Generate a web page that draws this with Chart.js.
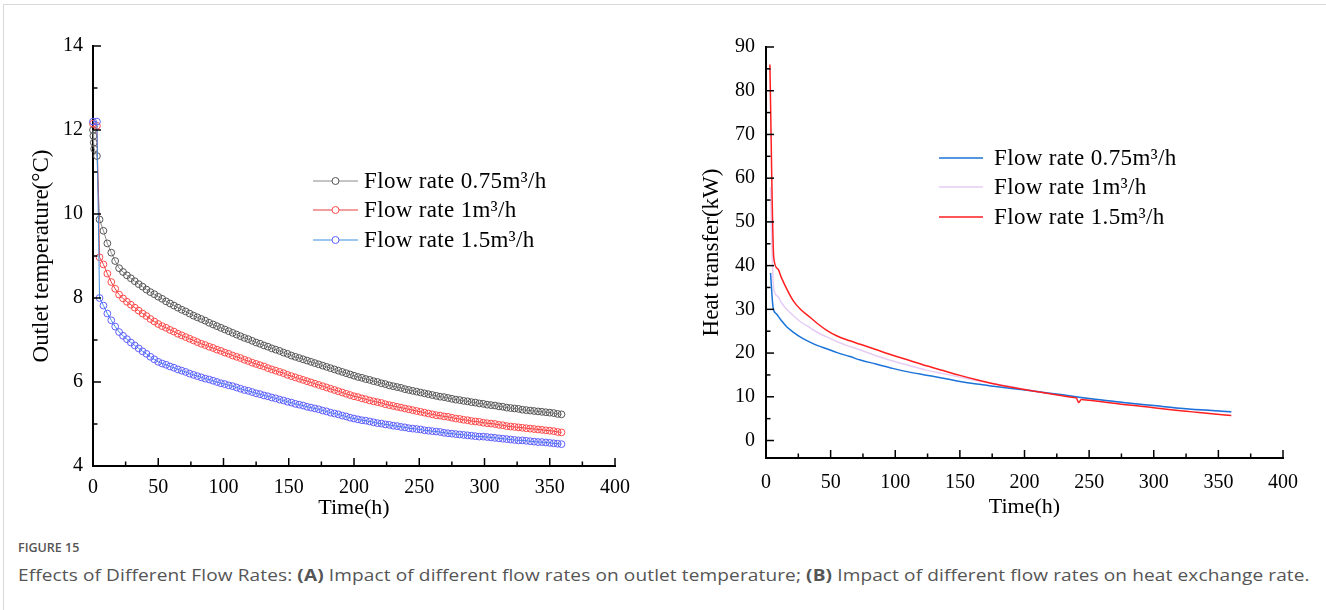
<!DOCTYPE html>
<html>
<head>
<meta charset="utf-8">
<script src="https://cdn.jsdelivr.net/npm/chart.js@4.4.0/dist/chart.umd.min.js"></script>
<style>
  body { margin: 0; background: #fff; width: 1326px; height: 610px; position: relative; overflow: hidden; }
  .frame { position: absolute; left: 3px; top: 4px; right: 0; bottom: 0; border-left: 1px solid #d8d8d8; border-top: 1px solid #d8d8d8; }
  #tempChart { position: absolute; left: 0; top: 0; }
  #heatChart { position: absolute; left: 660px; top: 0; }
  .fig { position: absolute; left: 18px; top: 539px; font-family: "Open Sans"; font-size: 12.5px; font-weight: 600; color: #555; }
  .cap { position: absolute; left: 18px; top: 564px; font-family: "Open Sans"; font-size: 16px; letter-spacing: 0.1px; color: #555;
         white-space: nowrap; transform: scaleX(1.19); transform-origin: left top; }
  .cap b { font-weight: 700; }
</style>
</head>
<body>
<div class="frame"></div>
<canvas id="tempChart" width="660" height="530"></canvas>
<canvas id="heatChart" width="666" height="530"></canvas>
<div class="fig">FIGURE 15</div>
<div class="cap">Effects of Different Flow Rates: <b>(A)</b> Impact of different flow rates on outlet temperature; <b>(B)</b> Impact of different flow rates on heat exchange rate.</div>
<script>
const seriesNames = ['Flow rate 0.75m³/h', 'Flow rate 1m³/h', 'Flow rate 1.5m³/h'];
const xTicks = [0, 50, 100, 150, 200, 250, 300, 350, 400];
const tempTicks = [4, 6, 8, 10, 12, 14];
const heatTicks = [0, 10, 20, 30, 40, 50, 60, 70, 80, 90];

// (A) outlet temperature, circles every ~3 h
const timeGrid = [
  5, 8, 11, 14, 17, 20, 23, 26, 29, 32,
  35, 38, 41, 44, 47, 50, 53, 56, 59, 62,
  65, 68, 71, 74, 77, 80, 83, 86, 89, 92,
  95, 98, 101, 104, 107, 110, 113, 116, 119, 122,
  125, 128, 131, 134, 137, 140, 143, 146, 149, 152,
  155, 158, 161, 164, 167, 170, 173, 176, 179, 182,
  185, 188, 191, 194, 197, 200, 203, 206, 209, 212,
  215, 218, 221, 224, 227, 230, 233, 236, 239, 242,
  245, 248, 251, 254, 257, 260, 263, 266, 269, 272,
  275, 278, 281, 284, 287, 290, 293, 296, 299, 302,
  305, 308, 311, 314, 317, 320, 323, 326, 329, 332,
  335, 338, 341, 344, 347, 350, 353, 356, 359
];

const earlyTime075 = [0, 0.3, 0.6, 0.9, 3];
const earlyTemp075 = [12.0, 11.86, 11.7, 11.55, 11.38];
const temp075 = [
  9.87, 9.60, 9.30, 9.08, 8.88, 8.71, 8.62, 8.54, 8.47, 8.40,
  8.33, 8.27, 8.20, 8.14, 8.09, 8.03, 7.98, 7.92, 7.87, 7.82,
  7.77, 7.72, 7.68, 7.63, 7.58, 7.54, 7.50, 7.46, 7.41, 7.37,
  7.33, 7.29, 7.25, 7.21, 7.17, 7.13, 7.09, 7.05, 7.02, 6.98,
  6.94, 6.91, 6.87, 6.84, 6.80, 6.77, 6.74, 6.70, 6.67, 6.63,
  6.60, 6.57, 6.54, 6.51, 6.48, 6.45, 6.42, 6.39, 6.36, 6.33,
  6.30, 6.27, 6.24, 6.21, 6.18, 6.15, 6.12, 6.10, 6.07, 6.05,
  6.02, 6.00, 5.97, 5.95, 5.92, 5.90, 5.88, 5.86, 5.83, 5.81,
  5.79, 5.77, 5.75, 5.73, 5.71, 5.69, 5.67, 5.65, 5.64, 5.62,
  5.60, 5.58, 5.57, 5.55, 5.54, 5.52, 5.51, 5.49, 5.48, 5.46,
  5.45, 5.44, 5.42, 5.41, 5.39, 5.38, 5.37, 5.36, 5.34, 5.33,
  5.32, 5.31, 5.30, 5.29, 5.28, 5.27, 5.26, 5.24, 5.23
];

const earlyTime1 = [0, 3];
const earlyTemp1 = [12.15, 12.1];
const temp1 = [
  8.97, 8.80, 8.58, 8.38, 8.22, 8.08, 7.99, 7.91, 7.84, 7.77,
  7.70, 7.63, 7.57, 7.50, 7.44, 7.38, 7.33, 7.29, 7.24, 7.20,
  7.15, 7.11, 7.07, 7.03, 6.99, 6.95, 6.91, 6.88, 6.84, 6.81,
  6.77, 6.74, 6.70, 6.67, 6.63, 6.60, 6.57, 6.53, 6.50, 6.46,
  6.43, 6.40, 6.37, 6.33, 6.30, 6.27, 6.24, 6.21, 6.17, 6.14,
  6.11, 6.08, 6.05, 6.02, 5.99, 5.96, 5.93, 5.90, 5.87, 5.84,
  5.81, 5.78, 5.75, 5.72, 5.69, 5.66, 5.64, 5.61, 5.59, 5.56,
  5.54, 5.52, 5.50, 5.47, 5.45, 5.43, 5.41, 5.39, 5.37, 5.35,
  5.33, 5.31, 5.29, 5.27, 5.25, 5.23, 5.21, 5.20, 5.18, 5.17,
  5.15, 5.13, 5.12, 5.10, 5.09, 5.07, 5.06, 5.05, 5.03, 5.02,
  5.01, 5.00, 4.98, 4.97, 4.95, 4.94, 4.93, 4.92, 4.91, 4.90,
  4.89, 4.88, 4.87, 4.86, 4.85, 4.84, 4.83, 4.81, 4.80
];

const earlyTime15 = [0, 3];
const earlyTemp15 = [12.2, 12.2];
const temp15 = [
  8.00, 7.82, 7.63, 7.47, 7.32, 7.19, 7.10, 7.02, 6.94, 6.87,
  6.80, 6.73, 6.67, 6.60, 6.54, 6.48, 6.44, 6.41, 6.37, 6.34,
  6.30, 6.27, 6.24, 6.20, 6.17, 6.14, 6.11, 6.08, 6.06, 6.03,
  6.00, 5.97, 5.95, 5.92, 5.90, 5.87, 5.84, 5.81, 5.79, 5.76,
  5.73, 5.71, 5.68, 5.66, 5.63, 5.61, 5.58, 5.56, 5.53, 5.51,
  5.48, 5.46, 5.44, 5.41, 5.39, 5.37, 5.35, 5.32, 5.30, 5.27,
  5.25, 5.23, 5.20, 5.18, 5.15, 5.13, 5.11, 5.09, 5.08, 5.06,
  5.04, 5.02, 5.01, 4.99, 4.98, 4.96, 4.95, 4.93, 4.92, 4.90,
  4.89, 4.88, 4.87, 4.85, 4.84, 4.83, 4.82, 4.81, 4.79, 4.78,
  4.77, 4.76, 4.75, 4.74, 4.73, 4.72, 4.71, 4.70, 4.70, 4.69,
  4.68, 4.67, 4.66, 4.65, 4.64, 4.63, 4.62, 4.61, 4.61, 4.60,
  4.59, 4.58, 4.57, 4.57, 4.56, 4.55, 4.54, 4.53, 4.52
];

// (B) heat transfer
const heatTime075 = [3.5, 5.5, 8, 12, 16, 21, 27, 34, 40, 47, 55, 65, 73, 85, 98, 110, 124, 137, 150, 163,
  176, 190, 202, 215, 228, 240, 250, 265, 280, 300, 320, 340, 360];
const heat075 = [38.3, 30.4, 29.0, 27.4, 26.0, 24.8, 23.6, 22.5, 21.7, 21.0, 20.1, 19.2, 18.4, 17.5, 16.5, 15.7, 14.95, 14.25, 13.5, 12.9,
  12.4, 11.9, 11.5, 11.0, 10.5, 10.0, 9.6, 9.1, 8.6, 8.0, 7.4, 6.95, 6.55];

const heatTime1 = [3.5, 4.5, 6, 9, 12, 16, 21, 27, 34, 40, 47, 55, 65, 73, 85, 98, 110, 124, 137, 150,
  163, 176, 190, 202, 215, 228, 240, 250, 265, 280, 300, 320, 340, 360];
const heat1 = [58, 45, 34.6, 33.0, 31.5, 30.0, 28.6, 27.1, 25.8, 24.7, 23.7, 22.6, 21.5, 20.7, 19.4, 18.2, 17.2, 16.1, 15.3, 14.5,
  13.7, 13.0, 12.3, 11.6, 11.0, 10.4, 9.95, 9.55, 9.05, 8.55, 7.95, 7.35, 6.9, 6.45];

const heatTime15 = [3, 6, 9, 12, 16, 21, 27, 34, 40, 47, 55, 65, 73, 85, 98, 110, 124, 137, 150, 163,
  176, 190, 202, 215, 228, 238, 240, 242, 244, 250, 260, 275, 290, 300, 315, 330, 345, 360];
const heat15 = [86.0, 41.8, 39.3, 37.2, 34.7, 32.0, 29.9, 28.2, 26.7, 25.2, 23.9, 22.8, 22.0, 20.8, 19.5, 18.4, 17.1, 16.0, 14.9, 13.9,
  13.0, 12.2, 11.55, 10.9, 10.3, 9.85, 9.75, 8.7, 9.4, 9.2, 8.85, 8.3, 7.85, 7.5, 7.0, 6.55, 6.1, 5.7];

function toPoints(times, values) {
  return times.map((t, i) => ({ x: t, y: values[i] }));
}

const serif = 'Liberation Serif';

// ticks drawn inside the axes, major + minor
const innerTicks = {
  id: 'innerTicks',
  afterDraw(chart) {
    const { ctx, chartArea: area, scales: { x, y } } = chart;
    ctx.save();
    ctx.strokeStyle = '#000';
    ctx.lineWidth = 1.5;
    const seg = (x1, y1, x2, y2) => { ctx.beginPath(); ctx.moveTo(x1, y1); ctx.lineTo(x2, y2); ctx.stroke(); };
    const xv = x.ticks.map(t => t.value);
    const xs = xv[1] - xv[0];
    xv.forEach(v => {
      const px = x.getPixelForValue(v);
      seg(px, area.bottom, px, area.bottom - 8);
      if (v + xs / 2 < x.max) {
        const pm = x.getPixelForValue(v + xs / 2);
        seg(pm, area.bottom, pm, area.bottom - 4.5);
      }
    });
    const yv = y.ticks.map(t => t.value);
    const ys = yv[1] - yv[0];
    yv.forEach(v => {
      const py = y.getPixelForValue(v);
      seg(area.left, py, area.left + 8, py);
      if (v + ys / 2 < y.max) {
        const pm = y.getPixelForValue(v + ys / 2);
        seg(area.left, pm, area.left + 4.5, pm);
      }
    });
    ctx.restore();
  }
};

// legend sitting inside the plot
const insideLegend = {
  id: 'insideLegend',
  afterDraw(chart, args, opts) {
    const { ctx } = chart;
    ctx.save();
    ctx.font = '23px "' + serif + '"';
    ctx.letterSpacing = '0.35px';
    ctx.textBaseline = 'middle';
    ctx.fillStyle = '#000';
    chart.data.datasets.forEach((ds, i) => {
      const ry = opts.rows[i];
      ctx.strokeStyle = ds.borderColor;
      ctx.lineWidth = ds.borderWidth;
      ctx.beginPath();
      ctx.moveTo(opts.x0, ry);
      ctx.lineTo(opts.x1, ry);
      ctx.stroke();
      if (opts.marker) {
        ctx.fillStyle = '#fff';
        ctx.strokeStyle = ds.pointBorderColor;
        ctx.lineWidth = 1;
        ctx.beginPath();
        ctx.arc((opts.x0 + opts.x1) / 2, ry, 3.5, 0, Math.PI * 2);
        ctx.fill();
        ctx.stroke();
        ctx.fillStyle = '#000';
      }
      ctx.fillText(ds.label, opts.textX, ry + 1);
    });
    ctx.restore();
  }
};

function axes(cfg) {
  return {
    x: {
      type: 'linear', min: 0, max: 400,
      afterFit: s => { s.height = cfg.xHeight; },
      afterBuildTicks: s => { s.ticks = xTicks.map(v => ({ value: v })); },
      grid: { display: true, drawOnChartArea: false, drawTicks: false },
      border: { display: true, color: '#000', width: 2 },
      ticks: { padding: cfg.xPad, color: '#000', font: { family: serif, size: 20 } },
      title: { display: true, text: 'Time(h)', color: '#000', font: { family: serif, size: 22 }, padding: { top: 0, bottom: cfg.xTitlePad } }
    },
    y: {
      type: 'linear', min: cfg.yMin, max: cfg.yMax,
      afterFit: s => { s.width = cfg.yWidth; },
      afterBuildTicks: s => { s.ticks = cfg.yTicks.map(v => ({ value: v })); },
      grid: { display: true, drawOnChartArea: false, drawTicks: false },
      border: { display: true, color: '#000', width: 2 },
      ticks: { padding: cfg.yPad, color: '#000', font: { family: serif, size: 20 } },
      title: { display: true, text: cfg.yTitle, color: '#000', font: { family: serif, size: 23 }, padding: { top: cfg.yTitlePad, bottom: 0 } }
    }
  };
}

function circleSeries(label, times, values, lineColor, markColor, order) {
  return {
    label: label,
    data: toPoints(times, values),
    borderColor: lineColor,
    borderWidth: 1,
    pointRadius: 3.4,
    pointBorderWidth: 1,
    pointBorderColor: markColor,
    pointBackgroundColor: 'rgba(255,255,255,0)',
    tension: 0,
    clip: false,
    order: order
  };
}

new Chart(document.getElementById('tempChart'), {
  type: 'line',
  data: {
    datasets: [
      circleSeries(seriesNames[0], earlyTime075.concat(timeGrid), earlyTemp075.concat(temp075), '#8a8a8a', '#555555', 2),
      circleSeries(seriesNames[1], earlyTime1.concat(timeGrid), earlyTemp1.concat(temp1), '#e83c3c', '#ff4a4a', 1),
      circleSeries(seriesNames[2], earlyTime15.concat(timeGrid), earlyTemp15.concat(temp15), '#3d8ee0', '#5f5fff', 0)
    ]
  },
  options: {
    responsive: false,
    animation: false,
    layout: { padding: { top: 46, right: 45, left: 0, bottom: 0 } },
    plugins: {
      legend: { display: false },
      tooltip: { enabled: false },
      insideLegend: { x0: 313, x1: 358, textX: 364, rows: [181, 210, 240], marker: true }
    },
    scales: axes({ xHeight: 64, xPad: 10, xTitlePad: 9, yMin: 4, yMax: 14, yTicks: tempTicks, yWidth: 93, yPad: 10,
      yTitle: 'Outlet temperature(°C)', yTitlePad: 28 })
  },
  plugins: [innerTicks, insideLegend]
});

function lineSeries(label, times, values, color, order) {
  return {
    label: label,
    data: toPoints(times, values),
    borderColor: color,
    borderWidth: 1.5,
    pointRadius: 0,
    cubicInterpolationMode: 'monotone',
    order: order
  };
}

new Chart(document.getElementById('heatChart'), {
  type: 'line',
  data: {
    datasets: [
      lineSeries(seriesNames[0], heatTime075, heat075, '#1a73d9', 1),
      lineSeries(seriesNames[1], heatTime1, heat1, '#e6cdf5', 2),
      lineSeries(seriesNames[2], heatTime15, heat15, '#ff1f1f', 0)
    ]
  },
  options: {
    responsive: false,
    animation: false,
    layout: { padding: { top: 47, right: 43, left: 0, bottom: 0 } },
    plugins: {
      legend: { display: false },
      tooltip: { enabled: false },
      insideLegend: { x0: 279, x1: 323, textX: 334, rows: [158, 187, 217], marker: false }
    },
    scales: axes({ xHeight: 72, xPad: 13, xTitlePad: 10, yMin: -4, yMax: 90, yTicks: heatTicks, yWidth: 106, yPad: 11,
      yTitle: 'Heat transfer(kW)', yTitlePad: 38 })
  },
  plugins: [innerTicks, insideLegend]
});
</script>
</body>
</html>
